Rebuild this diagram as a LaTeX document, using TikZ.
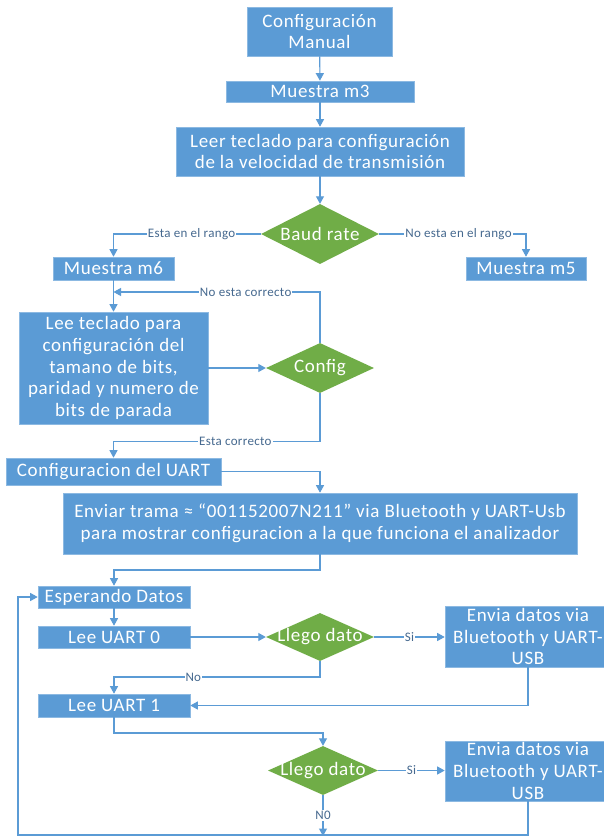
\documentclass[tikz,border=0pt]{standalone}
\usepackage{fontspec}
\setmainfont{Carlito}
\newfontfamily\boxfont[LetterSpace=3.5]{Carlito}
\newfontfamily\linkfont[LetterSpace=2.5]{Carlito}
\usetikzlibrary{arrows.meta,shapes.geometric}
\definecolor{boxblue}{HTML}{5B9BD5}
\definecolor{decgreen}{HTML}{70AD47}
\definecolor{linkblue}{HTML}{5B9BD5}
\definecolor{lbltext}{HTML}{46698F}
\tikzset{
  stepbox/.style={rectangle, fill=boxblue, draw=boxblue!70!white, line width=0.6pt, text=white,
    align=center, inner sep=0pt, font=\boxfont\fontsize{19}{21.6}\selectfont},
  decbox/.style={diamond, fill=decgreen, inner sep=0pt},
  dectext/.style={text=white, font=\boxfont\fontsize{19}{21.6}\selectfont, inner sep=0pt},
  conn/.style={draw=linkblue, line width=1.1pt, -{Triangle[length=7.5pt,width=8pt]}},
  lbl/.style={fill=white, text=lbltext, inner sep=1pt, font=\linkfont\fontsize{13}{15}\selectfont}
}
\begin{document}
\begin{tikzpicture}[x=1pt,y=-1pt]
\useasboundingbox[fill=white] (0,0) rectangle (604,836);

% process boxes and decisions
\node[stepbox, minimum width=145, minimum height=49] (cm) at (319.5,31.5) {Configuración\\Manual};
\node[stepbox, minimum width=188, minimum height=21] (m3) at (320,91.5) {Muestra m3};
\node[stepbox, minimum width=288, minimum height=49] (lt) at (320,151.5) {Leer teclado para configuración\\de la velocidad de transmisión};
\node[decbox, minimum width=118, minimum height=60] (br) at (320,234) {};
\node[dectext] at (br) {Baud rate};
\node[stepbox, minimum width=121, minimum height=23] (m6) at (113.5,268.5) {Muestra m6};
\node[stepbox, minimum width=120, minimum height=23] (m5) at (526,268.5) {Muestra m5};
\node[stepbox, minimum width=189, minimum height=112] (ltb) at (113.5,368)
  {Lee teclado para\\configuración del\\tamano de bits,\\paridad y numero de\\bits de parada};
\node[decbox, minimum width=108, minimum height=50] (cfg) at (320,368) {};
\node[dectext] at (cfg) {Config};
\node[stepbox, minimum width=215, minimum height=27] (uart) at (113.5,471.5) {Configuracion del UART};
\node[stepbox, minimum width=514, minimum height=61] (env) at (320,523.5)
  {Enviar trama ≈ “001152007N211” via Bluetooth y UART-Usb\\para mostrar configuracion a la que funciona el analizador};
\node[stepbox, minimum width=152, minimum height=22] (esp) at (114,597) {Esperando Datos};
\node[stepbox, minimum width=152, minimum height=22] (u0) at (114,637) {Lee UART 0};
\node[decbox, minimum width=108, minimum height=48] (ld1) at (320,637) {};
\node[dectext] at (ld1) {Llego dato};
\node[stepbox, minimum width=166, minimum height=61] (ed1) at (528,636.5) {Envia datos via\\Bluetooth y UART-\\USB};
\node[stepbox, minimum width=152, minimum height=23] (u1) at (114,705.5) {Lee UART 1};
\node[decbox, minimum width=110, minimum height=49] (ld2) at (323,770.5) {};
\node[dectext] at (ld2) {Llego dato};
\node[stepbox, minimum width=166, minimum height=60] (ed2) at (528,771) {Envia datos via\\Bluetooth y UART-\\USB};

% loose ends of the connectors
\coordinate (noend) at (323,836);
\coordinate (loopbr) at (528,835);
\coordinate (loopbl) at (18,835);

% connectors
\draw[conn] (cm) -- (m3);
\draw[conn] (m3) -- (lt);
\draw[conn] (lt) -- (br);
\draw[conn] (br.west) -- node[lbl, pos=0.47] {Esta en el rango} (m6.north |- br.west) -- (m6.north);
\draw[conn] (br.east) -- node[lbl, pos=0.54] {No esta en el rango} (m5.north |- br.east) -- (m5.north);
\draw[conn] (m6.south) -- (ltb.north);
\draw[conn] (cfg.north) -- (cfg.north |- 0,292) -- node[lbl, pos=0.36] {No esta correcto} (m6.south |- 0,292);
\draw[conn] (ltb.east |- cfg.west) -- (cfg.west);
\draw[conn] (cfg.south) -- (cfg.south |- 0,441.5) -- node[lbl, pos=0.41] {Esta correcto} (uart.north |- 0,441.5) -- (uart.north);
\draw[conn] (uart.east) -| (env.north);
\draw[conn] (env.south) -- (env.south |- 0,570) -- (esp.north |- 0,570) -- (esp.north);
\draw[conn] (esp.south) -- (u0.north);
\draw[conn] (u0.east) -- (ld1.west);
\draw[conn] (ld1.east) -- node[lbl] {Si} (ed1.west |- ld1.east);
\draw[conn] (ed1.south) |- (u1.east);
\draw[conn] (ld1.south) -- (ld1.south |- 0,677) -- node[lbl, pos=0.615] {No} (u1.north |- 0,677) -- (u1.north);
\draw[conn] (u1.south) -- (u1.south |- 0,733) -- (ld2.north |- 0,733) -- (ld2.north);
\draw[conn] (ld2.east) -- node[lbl] {Si} (ed2.west |- ld2.east);
\draw[conn] (ld2.south) -- node[lbl] {N0} (noend);
\draw[conn] (ed2.south) -- (loopbr) -- (loopbl) -- (loopbl |- esp.west) -- (esp.west);
\end{tikzpicture}
\end{document}
